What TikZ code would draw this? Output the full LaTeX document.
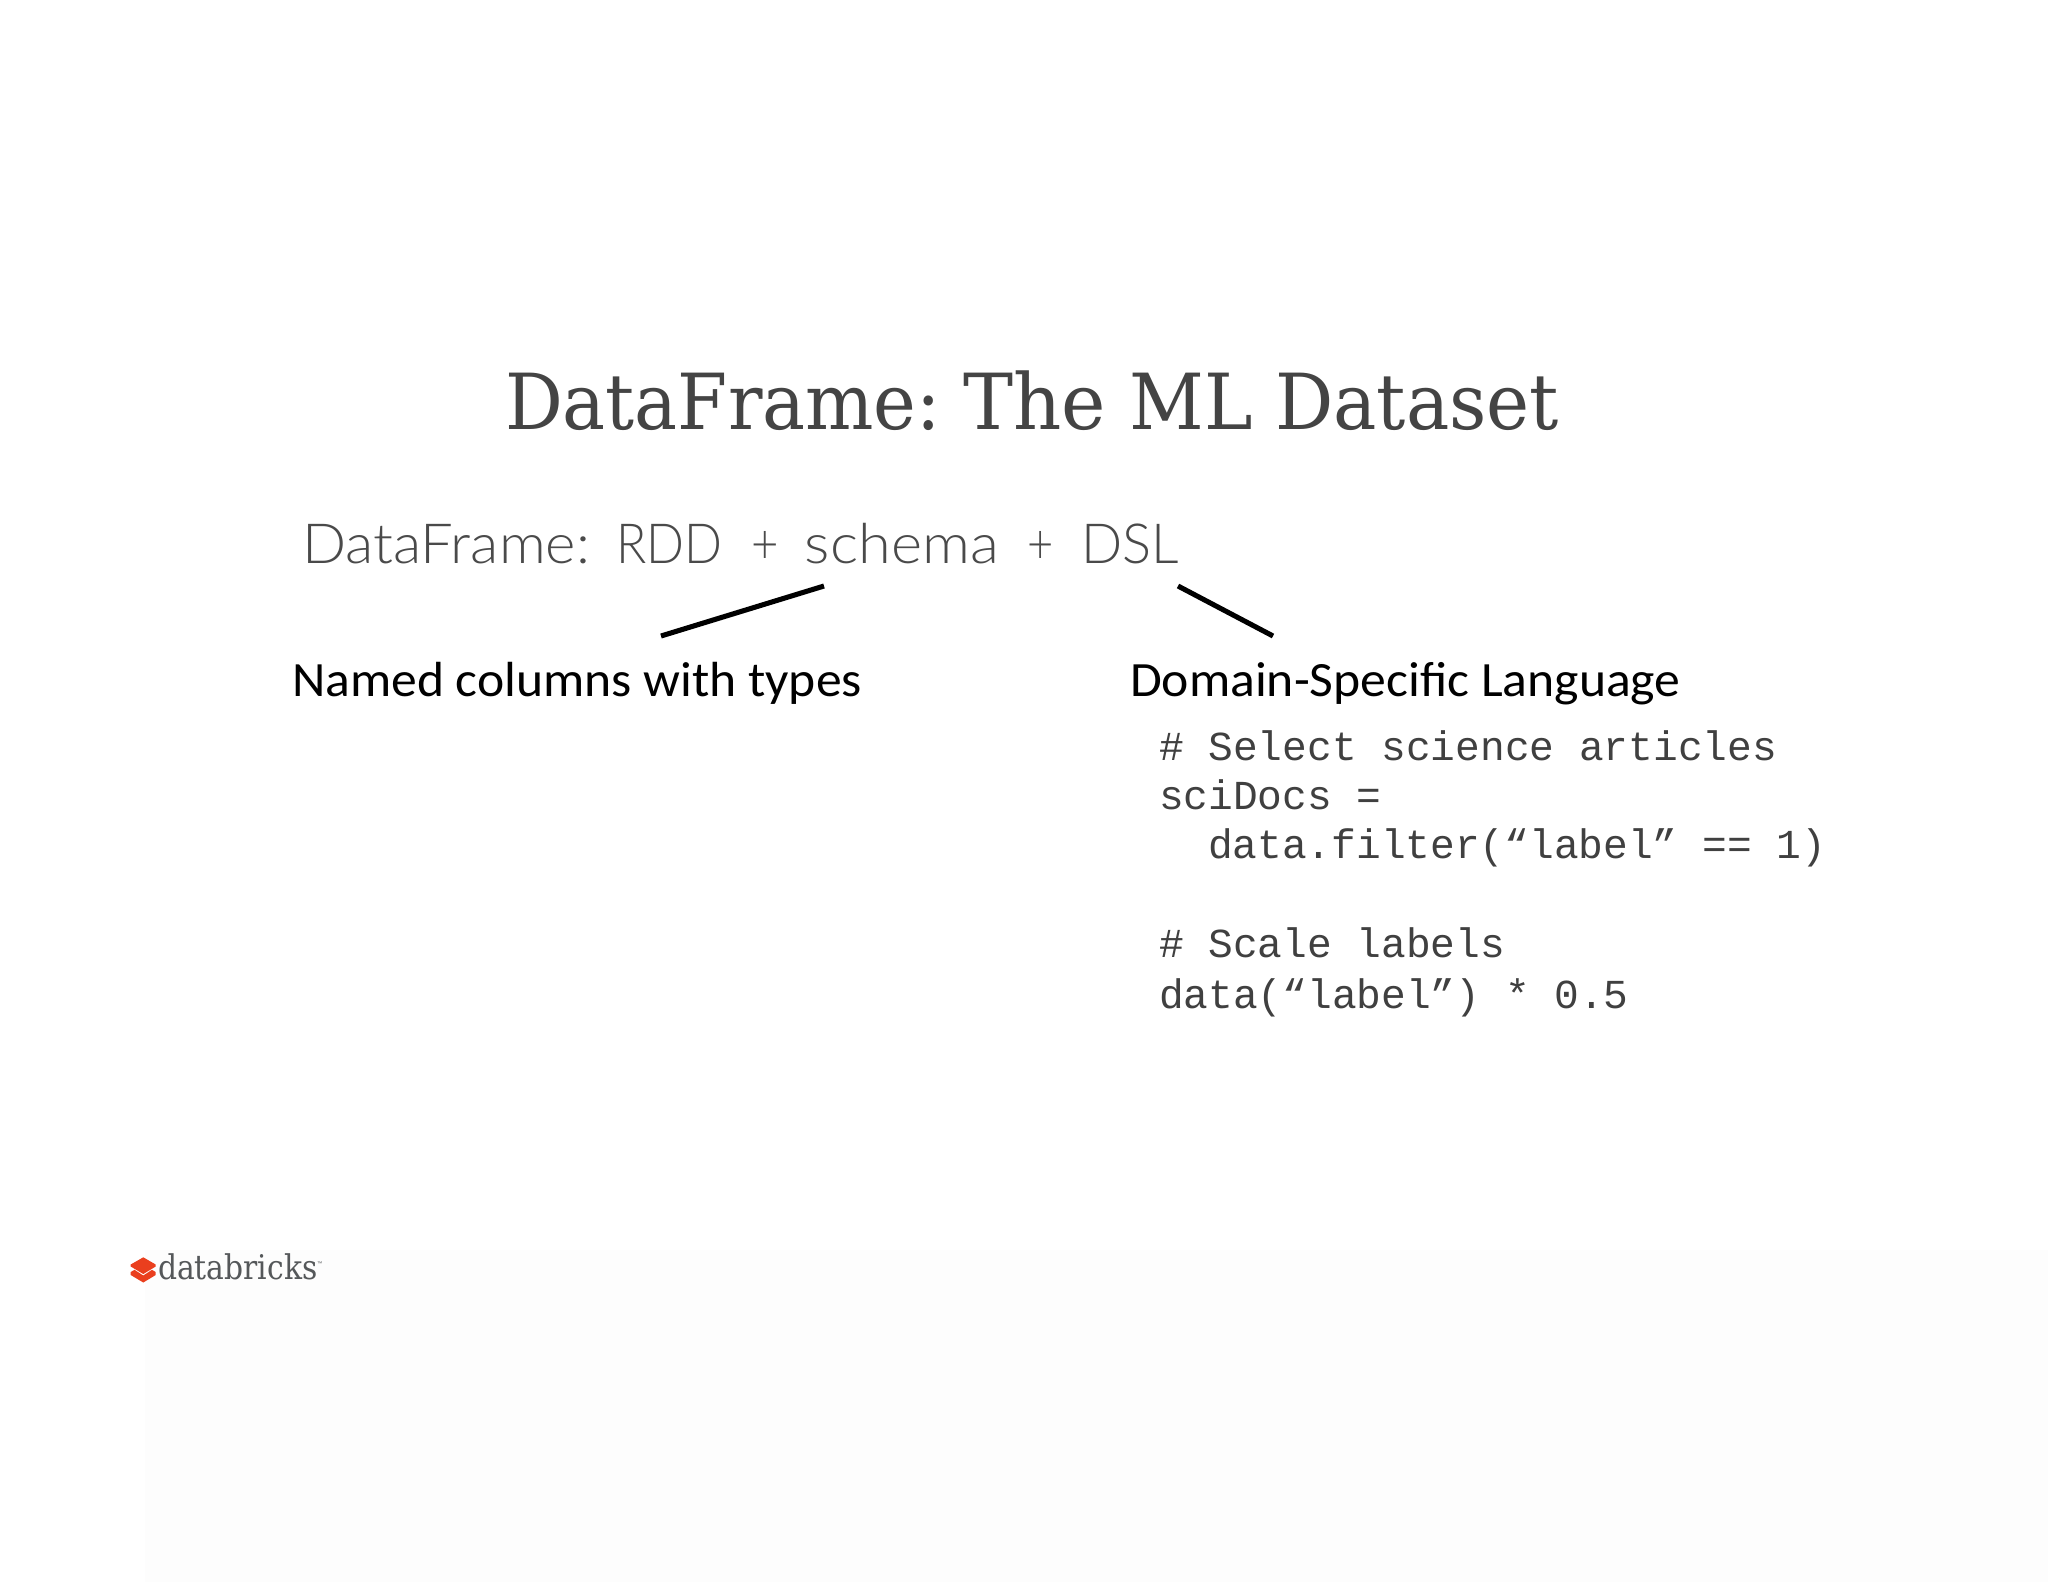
\documentclass[tikz,border=0pt]{standalone}
\usepackage{fontspec}
\usepackage{graphicx}
\setmainfont{Liberation Sans}
\newfontfamily\titlefont{DejaVu Serif}
\newfontfamily\subfont{Lato Light}
\newfontfamily\bodyfont{Carlito}
\newfontfamily\codefont{Liberation Mono}
\definecolor{titlegrey}{HTML}{444444}
\definecolor{subgrey}{HTML}{4A4A4A}
\definecolor{codegrey}{HTML}{404040}
\definecolor{logored}{HTML}{EA3F1E}
\definecolor{logogrey}{HTML}{55585A}
\definecolor{faint}{HTML}{FDFDFD}
\newcommand{\fitw}[2]{\resizebox{#1pt}{\height}{#2}}
\tikzset{
  txt/.style={anchor=base west,inner sep=0pt,outer sep=0pt},
  titletxt/.style={txt,text=titlegrey,font=\titlefont\fontsize{58}{60}\selectfont},
  subtxt/.style={txt,text=subgrey,font=\subfont\fontsize{41.5}{44}\selectfont},
  bodytxt/.style={txt,text=black,font=\bodyfont\fontsize{37}{40}\selectfont},
  codetxt/.style={txt,text=codegrey,font=\codefont\fontsize{30.9}{34}\selectfont},
  logotxt/.style={txt,text=logogrey,font=\titlefont\fontsize{25.5}{27}\selectfont},
  stroke/.style={line width=3.8pt,draw=black,line cap=butt},
}
\begin{document}
\begin{tikzpicture}[x=0.75pt,y=-0.75pt]
\useasboundingbox (0,0) rectangle (2048,1582);
\fill[white] (0,0) rectangle (2048,1582);
\fill[faint] (145,1250) rectangle (2048,1582);
\node[titletxt] (title) at (505,429) {\fitw{327}{DataFrame:}\hspace{16.7pt}\fitw{107}{The}\hspace{17.7pt}\fitw{92.4}{ML}\hspace{16.7pt}\fitw{213}{Dataset}};
\node[subtxt] (sub) at (302,563) {\fitw{216}{DataFrame:}\hspace{19.7pt}\fitw{79.6}{RDD}\hspace{21.6pt}\fitw{20.6}{+}\hspace{19.7pt}\fitw{145.4}{schema}\hspace{21.6pt}\fitw{19.7}{+}\hspace{20.6pt}\fitw{73.2}{DSL}};
\coordinate (schemaA) at (824,586);
\coordinate (schemaB) at (661,636);
\coordinate (dslA) at (1178,586);
\coordinate (dslB) at (1273,636);
\draw[stroke] (schemaA) -- (schemaB);
\draw[stroke] (dslA) -- (dslB);
\node[bodytxt] (named) at (292,696) {\fitw{427.5}{Named columns with types}};
\node[bodytxt] (domain) at (1130,696) {\fitw{413}{Domain-Specific Language}};
\node[codetxt] (c1) at (1159,760) {\# Select science articles};
\node[codetxt] (c2) at (1159,809) {sciDocs =};
\node[codetxt] (c3) at (1208,858) {data.filter(“label” == 1)};
\node[codetxt] (c4) at (1159,957) {\# Scale labels};
\node[codetxt] (c5) at (1159,1008) {data(“label”) * 0.5};
% logo
\fill[logored] (130.7,1272) -- (134.5,1269.8) -- (143.3,1275.5) -- (152,1269.8) -- (155.7,1272) -- (155.7,1275) -- (143.3,1282.5) -- (130.7,1275) -- cycle;
\fill[logored] (130.7,1264.5) -- (143.3,1257.3) -- (155.7,1264.5) -- (155.7,1266.5) -- (143.3,1274) -- (130.7,1266.5) -- cycle;
\node[logotxt] (logo) at (158,1279) {\fitw{119.5}{databricks}};
\node[txt,text=logogrey,font=\fontsize{4}{4}\selectfont] (tm) at (317,1265) {™};
\end{tikzpicture}
\end{document}
